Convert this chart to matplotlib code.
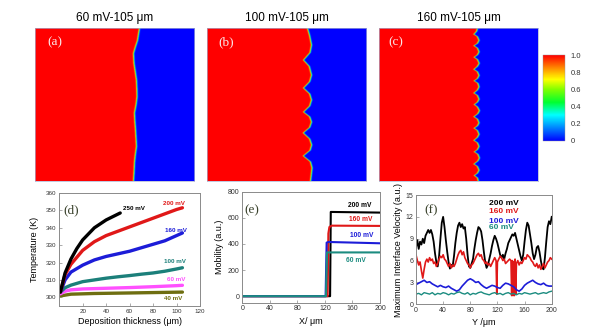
import numpy as np
import matplotlib
matplotlib.use('Agg')
import matplotlib.pyplot as plt
from matplotlib.colors import LinearSegmentedColormap, Normalize
from matplotlib.cm import ScalarMappable

plt.rcParams['font.family'] = ['Liberation Sans', 'DejaVu Sans']

# ---------------- data ----------------
TITLES = ['60 mV-105 μm', '100 mV-105 μm', '160 mV-105 μm']
TAGS_TOP = ['(a)', '(b)', '(c)']

# interface position (x, domain units 0-200) along rows (0 = top, 200 = bottom)
IFACE_A_ROW = [0, 8, 16, 25, 33, 46, 57, 68, 80, 90, 100, 111, 122, 133, 145, 155, 166, 176, 188, 200]
IFACE_A_X = [130.8, 129.5, 128.3, 125.5, 123.3, 123.9, 125.5, 127.0, 127.5, 127.7, 126.5, 124.5,
             125.0, 125.8, 126.5, 127.0, 125.5, 124.5, 124.0, 123.3]

IFACE_B_ROW = [0, 10, 22, 32, 41.8, 50, 61.4, 70, 78.4, 86, 94.1, 102, 109.8, 116, 122.9, 130,
               137.2, 145, 152.9, 160, 167.3, 175, 183, 192, 200]
IFACE_B_X = [125.8, 128.5, 130.8, 129.0, 120.8, 128.0, 130.8, 128.5, 120.8, 128.5, 130.8, 128.5,
             120.8, 128.5, 130.8, 128.5, 120.5, 128.5, 131.0, 129.0, 120.5, 129.5, 131.5, 130.5, 129.6]

IFACE_C_ROW = [0, 4, 8, 11, 16, 20, 23, 26, 31, 35, 38, 41, 46, 50, 54, 57, 62, 66, 69, 72,
               77, 81, 85, 88, 93, 97, 100, 103, 108, 112, 116, 119, 124, 128, 131, 134,
               139, 143, 147, 150, 155, 159, 162, 165, 170, 174, 178, 181, 186, 190, 193, 196, 200]
IFACE_C_X = [124, 123, 119.5, 124, 126, 124, 119.5, 124, 126, 124, 119.8, 124, 126.2, 124, 119.5, 124,
             126, 124, 119.8, 124.5, 126, 124, 119.5, 124, 126, 124, 120, 124, 126.5, 124.5, 119.5, 124,
             126, 124, 119.8, 124, 126, 124, 119.5, 124, 126, 124, 120, 124.5, 126.5, 124.5, 119.5, 124,
             126, 124, 120, 124, 125]

CBAR_TICKS = [0, 0.2, 0.4, 0.6, 0.8, 1.0]
CBAR_LABELS = ['0', '0.2', '0.4', '0.6', '0.8', '1.0']

# (d) temperature vs deposition thickness
D_LABELS = ['250 mV', '200 mV', '160 mV', '100 mV', '60 mV', '40 mV']
D_X = {
    '250 mV': [1, 5, 10, 15, 20, 30, 40, 52],
    '200 mV': [1, 5, 10, 20, 30, 40, 50, 60, 70, 80, 90, 100, 105],
    '160 mV': [1, 5, 10, 20, 30, 40, 50, 60, 70, 80, 90, 100, 105],
    '100 mV': [1, 5, 10, 20, 30, 40, 50, 60, 70, 80, 90, 100, 105],
    '60 mV': [1, 5, 10, 20, 40, 60, 80, 100, 105],
    '40 mV': [1, 10, 30, 60, 105],
}
D_T = {
    '250 mV': [303, 314, 322, 328, 333, 340, 344.5, 348.5],
    '200 mV': [303, 313, 319, 327, 332, 335.5, 338, 340.5, 343, 345.5, 348, 350.5, 351.5],
    '160 mV': [303, 310, 314.5, 318.5, 321.5, 323.5, 325, 326.5, 328.5, 330.5, 332.5, 335.5, 337],
    '100 mV': [303, 305.5, 307, 309, 310, 311, 311.8, 312.5, 313.3, 314, 315, 316.3, 317],
    '60 mV': [302, 303.5, 304.3, 304.8, 305.2, 305.6, 306.1, 306.7, 306.9],
    '40 mV': [300.8, 301.8, 302.2, 302.5, 303],
}
D_LABEL_POS = {'250 mV': (54.7, 351), '200 mV': (88.8, 353.9), '160 mV': (90.2, 338.7),
               '100 mV': (89.6, 320.6), '60 mV': (91.6, 310.5), '40 mV': (89.6, 299.6)}

# (e) mobility vs X
E_LABELS = ['200 mV', '160 mV', '100 mV', '60 mV']
E_X = {'200 mV': [0, 127.5, 128.5, 200],
       '160 mV': [0, 124, 125, 126.5, 130, 200],
       '100 mV': [0, 121, 122.5, 125, 200],
       '60 mV': [0, 121.5, 123, 200]}
E_Y = {'200 mV': [0, 0, 645, 640],
       '160 mV': [0, 0, 480, 530, 540, 538],
       '100 mV': [0, 0, 410, 415, 405],
       '60 mV': [0, 0, 335, 335]}
E_LABEL_POS = {'200 mV': (154, 698), '160 mV': (155, 589), '100 mV': (157, 465), '60 mV': (151, 274)}

# (f) maximum interface velocity vs Y
F_BLACK_X = list(range(0, 201, 2))
F_BLACK_Y = [7.8, 8.8, 7.6, 8.6, 8.2, 9.0, 8.4, 9.4, 9.8, 10.2, 9.8, 10.2, 9.6, 8.6, 7.0, 5.8, 5.2, 6.6,
             9.0, 11.2, 12.0, 10.6, 8.8, 7.2, 5.8, 4.9, 5.4, 5.2, 6.6, 8.4, 9.8, 10.8, 11.2, 10.6, 11.0,
             10.4, 10.6, 9.0, 6.8, 5.2, 5.0, 5.6, 6.2, 7.6, 8.8, 9.8, 10.6, 10.4, 10.0, 8.8, 7.2, 5.8,
             5.0, 5.4, 6.2, 7.0, 8.0, 8.8, 9.4, 9.0, 8.4, 7.6, 6.8, 6.4, 6.8, 6.2, 7.0, 7.6, 8.4, 8.8,
             9.2, 9.6, 9.4, 9.8, 9.0, 8.2, 7.4, 6.6, 6.0, 6.8, 8.6, 10.2, 11.2, 10.8, 9.6, 8.4, 7.0,
             6.2, 6.8, 7.8, 8.0, 7.2, 6.0, 5.0, 4.8, 6.4, 8.6, 10.6, 11.4, 11.0, 12.0]
F_RED_X = [0, 2, 4, 6, 8, 10, 12, 14, 16, 18, 20, 22, 24, 26, 28, 30, 32, 34, 36, 38, 40, 42, 44, 46,
           48, 50, 52, 54, 56, 58, 60, 62, 64, 66, 68, 70, 72, 74, 76, 78, 80, 82, 84, 86, 88, 90, 92,
           94, 96, 98, 100, 102, 104, 106, 108, 110, 112, 114, 116, 118, 119, 120, 122, 124, 126, 128,
           130, 132, 134, 136, 138, 140, 141, 142, 143, 144, 145, 146, 147, 148, 150, 152, 154, 156,
           158, 160, 162, 164, 166, 168, 170, 172, 174, 176, 178, 180, 182, 184, 186, 188, 190, 192,
           194, 196, 198, 200]
F_RED_Y = [6.8, 6.0, 5.4, 5.8, 4.6, 3.6, 4.8, 5.8, 6.2, 5.8, 6.4, 6.0, 6.2, 5.6, 5.8, 5.2, 5.6, 6.2,
           6.6, 6.4, 6.8, 6.2, 6.0, 5.6, 5.2, 5.6, 5.0, 5.4, 5.2, 5.6, 6.2, 6.8, 7.2, 7.4, 6.8, 7.2,
           6.4, 6.0, 5.6, 5.4, 5.0, 5.4, 5.6, 6.0, 6.4, 6.8, 7.0, 6.6, 6.8, 6.2, 6.0, 5.6, 5.8, 5.4,
           5.6, 5.2, 5.6, 6.0, 6.4, 6.0, 1.4, 5.8, 6.2, 6.6, 6.4, 6.0, 6.2, 5.6, 5.8, 6.0, 6.2, 6.0,
           1.2, 6.0, 1.2, 5.8, 1.2, 6.2, 1.4, 5.6, 6.0, 5.4, 5.8, 5.6, 6.0, 6.4, 6.2, 6.8, 6.6, 6.4,
           6.0, 5.8, 5.4, 5.2, 5.6, 5.0, 5.4, 4.8, 5.2, 5.6, 5.0, 5.4, 5.8, 6.0, 6.4, 6.2]
F_BLUE_X = list(range(0, 201, 4))
F_BLUE_Y = [2.7, 2.9, 3.1, 3.3, 3.0, 3.1, 2.8, 2.6, 2.4, 2.6, 2.4, 2.3, 2.5, 2.2, 2.0, 1.8, 2.0, 2.5,
            2.9, 3.3, 3.5, 3.3, 3.0, 3.1, 2.7, 2.4, 2.2, 2.4, 2.6, 2.5, 2.3, 2.2, 2.6, 2.9, 2.8, 2.6,
            2.4, 2.0, 1.8, 2.1, 2.6, 2.9, 3.1, 3.3, 3.0, 2.8, 2.7, 2.9, 2.6, 2.5, 2.5]
F_TEAL_X = list(range(0, 201, 4))
F_TEAL_Y = [1.4, 1.5, 1.3, 1.6, 1.5, 1.4, 1.6, 1.3, 1.5, 1.4, 1.6, 1.5, 1.3, 1.5, 1.4, 1.6, 1.7, 1.5,
            1.4, 1.6, 1.3, 1.5, 1.4, 1.6, 1.7, 1.5, 1.4, 1.3, 1.5, 1.6, 1.4, 1.5, 1.3, 1.5, 1.6, 1.4,
            1.5, 1.3, 1.5, 1.4, 1.6, 1.5, 1.4, 1.5, 1.6, 1.4, 1.5, 1.6, 1.5, 1.7, 1.8]
F_LEGEND = ['200 mV', '160 mV', '100 mV', '60 mV']
F_LEGEND_Y = [13.9, 12.7, 11.35, 10.55]

# ---------------- style ----------------
COL = {'250 mV': '#000000', '200 mV': '#e01818', '160 mV': '#1c1cd8', '100 mV': '#1b7f7a',
       '60 mV': '#ff50ff', '40 mV': '#6e6e10'}
COL_E = {'200 mV': '#000000', '160 mV': '#e01818', '100 mV': '#1c1cd8', '60 mV': '#1b8c80'}
COL_F = ['#000000', '#e01818', '#1c1cd8', '#1b8c80']
cmap = LinearSegmentedColormap.from_list('rainbow_origin', [
    (0.0, '#0000ff'), (0.15, '#0080ff'), (0.3, '#00ffff'), (0.45, '#00ff30'),
    (0.6, '#80ff00'), (0.72, '#ffff00'), (0.86, '#ff8000'), (1.0, '#ff0000')])
TAG_COLOR = '#38402a'
SPINE = '#8a8a8a'

W, H = 600, 332
fig = plt.figure(figsize=(W / 100, H / 100), dpi=100)


def frac(x0, y0, x1, y1):
    return [x0 / W, 1 - y1 / H, (x1 - x0) / W, (y1 - y0) / H]


# ---------------- top panels ----------------
grid = np.linspace(0, 200, 500)
XX, YY = np.meshgrid(grid, grid)
ifaces = [(IFACE_A_ROW, IFACE_A_X), (IFACE_B_ROW, IFACE_B_X), (IFACE_C_ROW, IFACE_C_X)]
top_pos = [frac(35, 28, 194, 181), frac(207, 28, 366, 181), frac(379, 28, 538, 181)]
tag_x = [0.075, 0.07, 0.06]
for i in range(3):
    ax = fig.add_axes(top_pos[i])
    rows, xs = ifaces[i]
    xi = np.interp(grid, rows, xs)
    phi = 0.5 * (1 - np.tanh((XX - xi[:, None]) / 0.9))
    ax.imshow(phi, cmap=cmap, vmin=0, vmax=1, extent=[0, 200, 200, 0], aspect='auto',
              interpolation='bilinear')
    ax.set_xticks([])
    ax.set_yticks([])
    for s in ax.spines.values():
        s.set_color('#a8b0d0')
        s.set_linewidth(0.5)
    ax.set_title(TITLES[i], fontsize=8.5, pad=5)
    ax.text(tag_x[i], 0.905, TAGS_TOP[i], transform=ax.transAxes, color='#fbeaea',
            family=['Liberation Serif', 'DejaVu Serif'], fontsize=9.5, va='center', ha='left')

cax = fig.add_axes(frac(543, 55, 565, 141))
cb = fig.colorbar(ScalarMappable(norm=Normalize(0, 1), cmap=cmap), cax=cax, ticks=CBAR_TICKS)
cb.ax.set_yticklabels(CBAR_LABELS)
cb.ax.tick_params(length=0, labelsize=5.5, pad=4, colors='#333333')
cb.outline.set_linewidth(0.3)
cb.outline.set_edgecolor('#999999')


def style_axes(ax, labelsize):
    for s in ax.spines.values():
        s.set_color(SPINE)
        s.set_linewidth(0.7)
    ax.tick_params(direction='in', length=2, width=0.5, color=SPINE, labelsize=labelsize,
                   labelcolor='#333333', pad=2)


# ---------------- (d) ----------------
axd = fig.add_axes(frac(59.2, 193, 200, 306))
for lab in D_LABELS[::-1]:
    axd.plot(D_X[lab], D_T[lab], color=COL[lab], lw=2.4, solid_capstyle='round')
for lab in D_LABELS:
    x, y = D_LABEL_POS[lab]
    axd.text(x, y, lab, color=COL[lab], fontsize=4.5, fontweight='bold', va='center', ha='left')
axd.set_xlim(0, 120)
axd.set_ylim(295, 360)
axd.set_xticks([20, 40, 60, 80, 100, 120])
axd.set_yticks([300, 310, 320, 330, 340, 350, 360])
style_axes(axd, 4.5)
axd.set_xlabel('Deposition thickness (μm)', fontsize=6.5, labelpad=2)
axd.set_ylabel('Temperature (K)', fontsize=6.5, labelpad=5)
axd.text(0.03, 0.85, '(d)', transform=axd.transAxes, color=TAG_COLOR,
         family=['Liberation Serif', 'DejaVu Serif'], fontsize=9.5, va='center')

# ---------------- (e) ----------------
axe = fig.add_axes(frac(242.3, 191.7, 380, 302.7))
for lab in E_LABELS:
    axe.plot(E_X[lab], E_Y[lab], color=COL_E[lab], lw=1.5)
for lab in E_LABELS:
    x, y = E_LABEL_POS[lab]
    axe.text(x, y, lab, color=COL_E[lab], fontsize=4.8, fontweight='bold', va='center', ha='left')
axe.set_xlim(0, 200)
axe.set_ylim(-50, 800)
axe.set_xticks([0, 40, 80, 120, 160, 200])
axe.set_yticks([0, 200, 400, 600, 800])
style_axes(axe, 5)
axe.set_xlabel('X/ μm', fontsize=6.5, labelpad=3)
axe.set_ylabel('Mobility (a.u.)', fontsize=6.5, labelpad=3)
axe.text(0.013, 0.83, '(e)', transform=axe.transAxes, color=TAG_COLOR,
         family=['Liberation Serif', 'DejaVu Serif'], fontsize=9.5, va='center')

# ---------------- (f) ----------------
axf = fig.add_axes(frac(416, 195, 551.7, 304.3))
axf.plot(F_BLACK_X, F_BLACK_Y, color=COL_F[0], lw=1.3)
axf.plot(F_RED_X, F_RED_Y, color=COL_F[1], lw=1.2)
axf.plot(F_BLUE_X, F_BLUE_Y, color=COL_F[2], lw=1.2)
axf.plot(F_TEAL_X, F_TEAL_Y, color=COL_F[3], lw=1.0)
for lab, yv, c in zip(F_LEGEND, F_LEGEND_Y, COL_F):
    axf.text(108, yv, lab, color=c, fontsize=6, fontweight='bold', va='center', ha='left')
axf.set_xlim(0, 200)
axf.set_ylim(0, 15)
axf.set_xticks([0, 40, 80, 120, 160, 200])
axf.set_yticks([0, 3, 6, 9, 12, 15])
style_axes(axf, 5)
axf.set_xlabel('Y /μm', fontsize=6.5, labelpad=3)
axf.set_ylabel('Maximum Interface Velocity (a.u.)', fontsize=6.5, labelpad=2)
axf.text(0.06, 0.856, '(f)', transform=axf.transAxes, color=TAG_COLOR,
         family=['Liberation Serif', 'DejaVu Serif'], fontsize=9.5, va='center')

fig.savefig('out.png', dpi=100)
